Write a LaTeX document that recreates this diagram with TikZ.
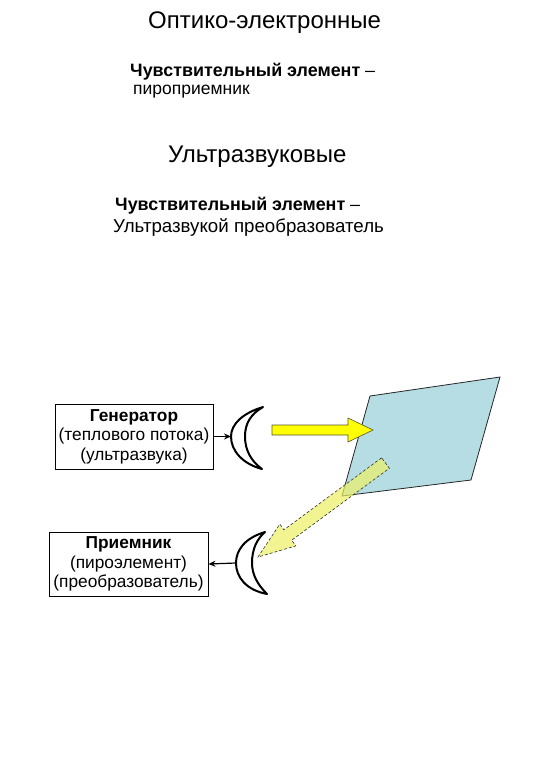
\documentclass[tikz,border=0pt]{standalone}
\usepackage{fontspec}
\setmainfont{Liberation Sans}
\usetikzlibrary{arrows.meta}
\definecolor{plate}{RGB}{182,220,228}
\definecolor{beam}{RGB}{255,255,0}
\definecolor{echo}{RGB}{236,240,100}
\tikzset{
  heading/.style={anchor=base west,inner sep=0pt,font=\fontsize{24}{28}\selectfont},
  sens/.style={anchor=base west,inner sep=0pt,font=\fontsize{17.9}{21}\selectfont\bfseries},
  bodytext/.style={anchor=base west,inner sep=0pt,font=\fontsize{17.5}{21}\selectfont},
  block/.style={draw,line width=0.9pt,align=center,inner sep=0pt,font=\fontsize{17.3}{19.5}\selectfont},
  lens/.style={draw,line width=2pt,fill=white,line join=round},
  link/.style={-{Stealth[length=7pt,width=6pt]},line width=1.2pt}
}

\begin{document}
\begin{tikzpicture}[x=1pt,y=-1pt]
    \useasboundingbox (0,0) rectangle (540,780);

    % -- Upper part: the two kinds of sensors --
    \node[heading] (opttitle) at (148,28) {Оптико-электронные};
    \node[sens] (optsens) at (130,76) {Чувствительный элемент \normalfont–};
    \node[bodytext] (optname) at (133,94) {пироприемник};

    \node[heading] (ustitle) at (168,162) {Ультразвуковые};
    \node[sens] (ussens) at (115,210) {Чувствительный элемент \normalfont–};
    \node[bodytext,font=\fontsize{18.7}{22}\selectfont] (usname) at (113,232) {Ультразвукой преобразователь};

    % -- Lower part: generator, receiver and the plate --
    \node[block,minimum width=158pt,minimum height=65pt] (gen) at (134,436.5)
      {\textbf{Генератор}\\(теплового потока)\\(ультразвука)};
    \node[block,minimum width=159pt,minimum height=64pt] (rec) at (128.5,564)
      {\textbf{Приемник}\\(пироэлемент)\\(преобразователь)};

    % lenses (left point of each is named for the links)
    \coordinate (genlens) at (231,436.5);
    \coordinate (reclens) at (236,563);
    \draw[lens] (263,407) .. controls (243,413) and (231,424) .. (genlens)
      .. controls (231,451) and (243,464) .. (262,469)
      .. controls (251,461) and (245,450) .. (245,436.5)
      .. controls (245,423) and (251,414) .. (263,407) -- cycle;
    \draw[lens] (265,532) .. controls (245,538) and (236,550) .. (reclens)
      .. controls (236,577) and (246,590) .. (267,594)
      .. controls (258,585) and (252,575) .. (252,563)
      .. controls (252,549) and (257,539) .. (265,532) -- cycle;

    \draw[link] (gen.east) -- (genlens);
    \draw[link] (reclens) -- (rec.east);

    % -- The plate --
    \draw[fill=plate,line width=0.8pt,draw=black!85] (370,396) -- (500,377) -- (471,480) -- (342,496) -- cycle;

    % -- Incoming beam --
    \draw[fill=beam,draw=olive!50!black,line width=0.6pt]
      (272,425) -- (348,425) -- (348,418) -- (373,430) -- (348,442) -- (348,435) -- (272,435) -- cycle;

    % -- Reflected beam (dashed, see-through) --
    \draw[fill=echo,fill opacity=0.7,draw=black!80,line width=0.6pt,dash pattern=on 3pt off 2pt]
      (381.6,457.8) -- (283.9,529.8) -- (279.8,524.1) -- (258,557) -- (295.8,545.9) -- (291.7,540.2) -- (389.4,468.2) -- cycle;

\end{tikzpicture}
\end{document}
